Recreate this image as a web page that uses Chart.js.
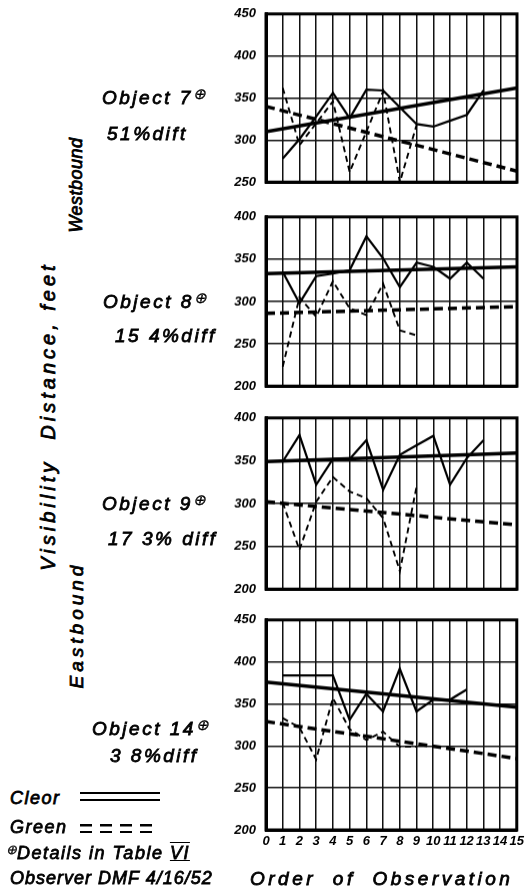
<!DOCTYPE html>
<html>
<head>
<meta charset="utf-8">
<script src="https://cdn.jsdelivr.net/npm/chart.js@4"></script>
<style>
  html, body { margin: 0; padding: 0; background: #fff; overflow: hidden; }
  #page { position: relative; width: 525px; height: 893px; }
  canvas { position: absolute; }
  .t { position: absolute; white-space: nowrap; line-height: 1; color: #000;
       font-family: "Liberation Sans", Arial, sans-serif; font-style: italic;
       font-size: 19px; letter-spacing: 2.5px; -webkit-text-stroke: 0.8px #000; }
  .t sup { font-size: 15px; vertical-align: 5px; letter-spacing: 0; -webkit-text-stroke: 0.3px #000; }
  .rot { transform: translate(-50%, -50%) rotate(-90deg); transform-origin: center; }
  .dbl { position: absolute; height: 5px; border-top: 2.5px solid #000; border-bottom: 2.5px solid #000; }
  .dbl.dash { border: none; height: 9px;
    background:
      repeating-linear-gradient(90deg, #000 0 12px, transparent 12px 20px) top / 100% 2.5px no-repeat,
      repeating-linear-gradient(90deg, #000 0 12px, transparent 12px 20px) bottom / 100% 2.5px no-repeat; }
</style>
</head>
<body>
<div id="page">
  <canvas id="c7"></canvas>
  <canvas id="c8"></canvas>
  <canvas id="c9"></canvas>
  <canvas id="c14"></canvas>

  <div class="t" style="left:102px;top:86px;">Object 7<sup>⊕</sup></div>
  <div class="t" style="left:107px;top:124px;">51%dift</div>
  <div class="t" style="left:103px;top:290px;">Object 8<sup>⊕</sup></div>
  <div class="t" style="left:115px;top:326px;">15 4%diff</div>
  <div class="t" style="left:102px;top:492px;">Object 9<sup>⊕</sup></div>
  <div class="t" style="left:108px;top:529px;">17 3% diff</div>
  <div class="t" style="left:92px;top:717px;">Object 14<sup>⊕</sup></div>
  <div class="t" style="left:110px;top:746px;">3 8%diff</div>

  <div class="t rot" style="left:48px;top:416px;font-size:20px;letter-spacing:4px;">Visibility &nbsp;Distance, feet</div>
  <div class="t rot" style="left:76px;top:185px;font-size:18px;letter-spacing:0.5px;">Westbound</div>
  <div class="t rot" style="left:76px;top:625px;font-size:19px;letter-spacing:4px;">Eastbound</div>

  <div class="t" style="left:10px;top:789px;font-size:18px;letter-spacing:1.5px;">Cleor</div>
  <div class="dbl" style="left:80px;top:792px;width:80px;"></div>
  <div class="t" style="left:10px;top:818px;font-size:18px;letter-spacing:1.5px;">Green</div>
  <div class="dbl dash" style="left:80px;top:824px;width:80px;"></div>
  <div class="t" style="left:6px;top:843px;font-size:18px;letter-spacing:1.5px;"><sup style="font-size:13px;vertical-align:5px;">⊕</sup>Details in Table <span style="text-decoration:underline overline;">VI</span></div>
  <div class="t" style="left:10px;top:869px;font-size:18px;letter-spacing:1px;">Observer DMF 4/16/52</div>
  <div class="t" style="left:250px;top:869px;font-size:19px;letter-spacing:3.5px;word-spacing:8px;">Order of Observation</div>
</div>

<script>
// order of observation (x positions)
const obs = [0, 1, 2, 3, 4, 5, 6, 7, 8, 9, 10, 11, 12, 13, 14, 15];
const trendX = [0, 15];

// Object 7 (westbound), 250-450
const obj7Clear = [null, 278, 301, 328, 356, 326, 360, 359, 339, 319, 316, 323, 330, 359, null, null];
const obj7Green = [null, 362, 294, 320, 346, 262, 310, 358, 250, 318, null, null, null, null, null, null];
const obj7TrendClear = [310, 362];
const obj7TrendGreen = [340, 263];

// Object 8 (westbound), 200-400
const obj8Clear = [null, 335, 298, 330, 333, 337, 377, 351, 317, 346, 341, 327, 346, 327, null, null];
const obj8Green = [null, 223, 305, 282, 324, 292, 284, 321, 266, 260, null, null, null, null, null, null];
const obj8TrendClear = [333, 341];
const obj8TrendGreen = [286, 294];

// Object 9 (eastbound), 200-400
const obj9Clear = [null, 349, 380, 322, 352, 352, 374, 316, 357, 368, 379, 322, 353, 374, null, null];
const obj9Green = [null, 301, 246, 302, 331, 314, 306, 283, 221, 320, null, null, null, null, null, null];
const obj9TrendClear = [349, 359];
const obj9TrendGreen = [302, 275];

// Object 14 (eastbound), 200-450
const obj14Clear = [null, 384, 384, 384, 384, 331, 362, 341, 392, 341, 355, 355, 367, null, null, null];
const obj14Green = [null, 333, 322, 284, 357, 320, 307, 317, 299, 299, null, null, null, null, null, null];
const obj14TrendClear = [376, 346];
const obj14TrendGreen = [329, 285];

const yRange7 = [250, 450];
const yRange8 = [200, 400];
const yRange9 = [200, 400];
const yRange14 = [200, 450];

function pts(xs, ys) {
  return xs.map((x, i) => ({ x: x, y: ys[i] })).filter(p => p.y !== null);
}

const frame = {
  id: 'frame',
  afterDraw(chart) {
    const a = chart.chartArea, c = chart.ctx;
    c.save();
    c.strokeStyle = '#000';
    c.lineWidth = 3;
    c.strokeRect(a.left, a.top, a.right - a.left, a.bottom - a.top);
    c.restore();
  }
};

const tickFont = { family: 'Liberation Sans', size: 13, style: 'italic', weight: 'bold' };
const plotLeft = 266, plotRight = 517;

function config(clear, green, tClear, tGreen, yRange, showX) {
  return {
    type: 'line',
    data: {
      datasets: [
        { data: pts(obs, clear), borderColor: '#000', borderWidth: 2.2 },
        { data: pts(obs, green), borderColor: '#000', borderWidth: 1.9, borderDash: [6, 4] },
        { data: pts(trendX, tClear), borderColor: '#000', borderWidth: 3.5 },
        { data: pts(trendX, tGreen), borderColor: '#000', borderWidth: 3.5, borderDash: [9, 5] }
      ]
    },
    options: {
      responsive: false,
      maintainAspectRatio: false,
      animation: false,
      layout: { padding: { top: 0, right: 8, bottom: 0, left: 0 } },
      elements: { point: { radius: 0 }, line: { tension: 0, fill: false } },
      plugins: { legend: { display: false }, tooltip: { enabled: false } },
      scales: {
        x: {
          type: 'linear', min: 0, max: 15,
          ticks: { display: showX, stepSize: 1, color: '#000', font: tickFont, padding: 4, maxRotation: 0, autoSkip: false },
          grid: { color: '#111', lineWidth: 1.5, drawTicks: false },
          border: { color: '#000', width: 3 },
          afterFit(s) { s.height = showX ? 22 : 0; }
        },
        y: {
          min: yRange[0], max: yRange[1],
          ticks: { stepSize: 50, color: '#000', font: tickFont, padding: 10 },
          grid: { color: '#111', lineWidth: 1.5, drawTicks: false },
          border: { color: '#000', width: 3 },
          afterFit(s) { s.width = 66; }
        }
      }
    },
    plugins: [frame]
  };
}

// place a chart so that its plot area lands on the given page box
function makePanel(id, top, bottom, clear, green, tClear, tGreen, yRange, showX) {
  const cv = document.getElementById(id);
  let w = 330, h = (bottom - top) + 80;
  cv.width = w; cv.height = h;
  let chart = new Chart(cv, config(clear, green, tClear, tGreen, yRange, showX));
  const a = chart.chartArea;
  const padT = a.top, padB = h - a.bottom, padL = a.left, padR = w - a.right;
  chart.destroy();
  w = padL + (plotRight - plotLeft) + padR;
  h = padT + (bottom - top) + padB;
  cv.width = w; cv.height = h;
  cv.style.width = w + 'px'; cv.style.height = h + 'px';
  cv.style.left = (plotLeft - padL) + 'px';
  cv.style.top = (top - padT) + 'px';
  new Chart(cv, config(clear, green, tClear, tGreen, yRange, showX));
}

makePanel('c7', 14, 182, obj7Clear, obj7Green, obj7TrendClear, obj7TrendGreen, yRange7, false);
makePanel('c8', 217, 386, obj8Clear, obj8Green, obj8TrendClear, obj8TrendGreen, yRange8, false);
makePanel('c9', 418, 589, obj9Clear, obj9Green, obj9TrendClear, obj9TrendGreen, yRange9, false);
makePanel('c14', 620, 830, obj14Clear, obj14Green, obj14TrendClear, obj14TrendGreen, yRange14, true);
</script>
</body>
</html>
